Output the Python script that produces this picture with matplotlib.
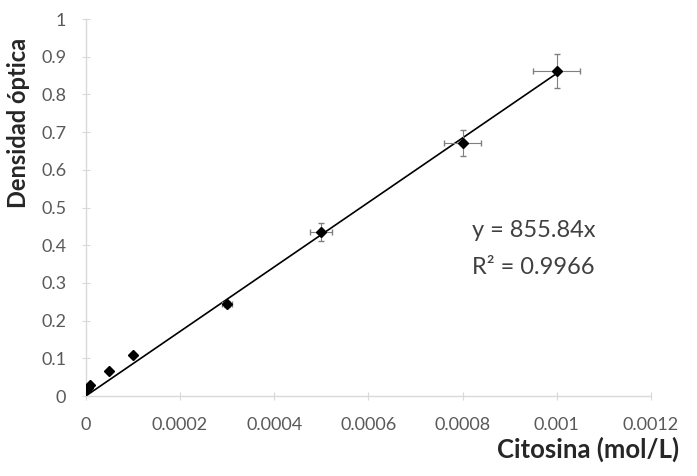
import numpy as np
from matplotlib import pyplot as plt

plt.rcParams['font.family'] = ['Lato', 'DejaVu Sans']

# measured points (concentration vs optical density)
conc = [0.000001, 0.000005, 0.00001, 0.00005, 0.0001, 0.0003, 0.0005, 0.0008, 0.001]
dens = [0.015, 0.022, 0.030, 0.067, 0.109, 0.245, 0.435, 0.671, 0.862]
conc_err = [0.0, 0.0, 0.0, 0.0, 0.0, 0.00001, 0.000023, 0.00004, 0.00005]
dens_err = [0.0, 0.0, 0.0, 0.0, 0.0, 0.008, 0.024, 0.034, 0.045]

slope = 855.84
r2 = 0.9966
fit_range = [0.0, 0.001]

x_ticks = [0, 0.0002, 0.0004, 0.0006, 0.0008, 0.001, 0.0012]
x_tick_labels = ['0', '0.0002', '0.0004', '0.0006', '0.0008', '0.001', '0.0012']
y_ticks = [0, 0.1, 0.2, 0.3, 0.4, 0.5, 0.6, 0.7, 0.8, 0.9, 1]
y_tick_labels = ['0', '0.1', '0.2', '0.3', '0.4', '0.5', '0.6', '0.7', '0.8', '0.9', '1']

fig = plt.figure(figsize=(6.97, 4.76), dpi=100)
ax = fig.add_axes([0.123, 0.168, 0.811, 0.792])

fx = np.array(fit_range)
ax.plot(fx, slope * fx, color='black', lw=1.2, zorder=2)

ax.errorbar(conc, dens, xerr=conc_err, yerr=dens_err, fmt='D', color='black',
            ms=5.5, ecolor='#7f7f7f', elinewidth=0.8, capsize=2, zorder=3)

ax.set_xlim(0, 0.0012)
ax.set_ylim(0, 1)
ax.set_xticks(x_ticks)
ax.set_xticklabels(x_tick_labels)
ax.set_yticks(y_ticks)
ax.set_yticklabels(y_tick_labels)

for side in ['top', 'right']:
    ax.spines[side].set_visible(False)
for side in ['left', 'bottom']:
    ax.spines[side].set_color('#d9d9d9')
    ax.spines[side].set_linewidth(1)
ax.tick_params(direction='inout', length=6, color='#d9d9d9', labelcolor='#595959',
               labelsize=13)
ax.tick_params(axis='x', pad=12)
ax.tick_params(axis='y', pad=11)

ax.text(0.000821, 0.44, 'y = %.2fx' % slope, fontsize=17, color='#404040',
        ha='left', va='center')
ax.text(0.000821, 0.34, 'R² = %.4f' % r2, fontsize=17, color='#404040',
        ha='left', va='center')

fig.text(0.975, 0.03, 'Citosina (mol/L)', fontsize=18.5, fontweight='bold',
         ha='right', va='bottom', color='#262626')
fig.text(0.026, 0.742, 'Densidad óptica', fontsize=17, fontweight='bold',
         rotation=90, ha='center', va='center', color='#262626')

fig.savefig('out.png', dpi=100)
